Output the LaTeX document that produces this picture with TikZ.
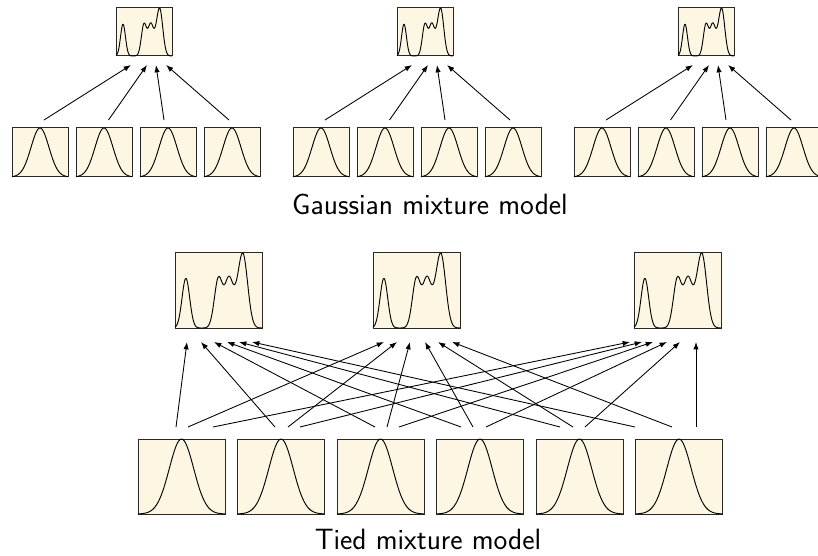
\documentclass[tikz,border=0pt]{standalone}
\usetikzlibrary{arrows.meta}

\definecolor{boxfill}{RGB}{253,246,226}
\definecolor{boxline}{RGB}{40,40,40}

\tikzset{
  curve/.style={draw=black,line width=0.7pt,line join=round},
  arr/.style={draw=black,line width=0.65pt,-{Latex[length=5.5pt,width=4pt]}},
  box/.style={draw=boxline,fill=boxfill,line width=0.75pt,inner sep=0pt,outer sep=0pt},
  smallcomp/.style={box,minimum width=42pt,minimum height=36.75pt},
  smallmix/.style={box,minimum width=42pt,minimum height=36pt},
  bigbox/.style={box,minimum width=65.25pt,minimum height=56.25pt},
  caption/.style={font=\sffamily\fontsize{22}{26}\selectfont,inner sep=0pt,anchor=base}
}

% single Gaussian bump inside a box node: #1 node, #2 width, #3 height, #4 = 2 sigma^2
\newcommand\DrawBell[4]{%
  \begin{scope}[shift={(#1.south west)},x=#2,y=#3]
    \draw[curve] plot[domain=0:1,samples=61] (\x,{exp(-((\x-0.5)^2)/#4)});
  \end{scope}}

% mixture density inside a box node: #1 node, #2 width, #3 height
\newcommand\DrawMix[3]{%
  \begin{scope}[shift={(#1.south west)},x=#2,y=#3]
    \draw[curve] plot[domain=0:1,samples=141] (\x,{0.66*exp(-((\x-0.125)^2)/0.003872)
      +0.66*exp(-((\x-0.5)^2)/0.004418)+0.635*exp(-((\x-0.62)^2)/0.004418)
      +0.12*exp(-((\x-0.7)^2)/0.0032)+0.98*exp(-((\x-0.78)^2)/0.00605)});
  \end{scope}}

\begin{document}
\begin{tikzpicture}[x=0.75pt,y=-0.75pt]
\path[use as bounding box,fill=white] (0,0) rectangle (818,556);
\clip (0,0) rectangle (818,556);

% ---------- Gaussian mixture model: three independent mixtures ----------
\foreach \g in {1,2,3}{
  \pgfmathsetmacro\off{281*(\g-1)}
  \node[smallmix] (gm\g) at (144+\off,32) {};
  \DrawMix{gm\g}{42pt}{36pt}
  \foreach \k in {1,2,3,4}{
    \node[smallcomp] (gc\g\k) at (40+64*\k-64+\off,152.5) {};
    \DrawBell{gc\g\k}{42pt}{36.75pt}{0.0512}
  }
  \foreach \k/\tx/\hx in {1/4/-13,2/4.5/3,3/-4/12,4/-3/22}{
    \draw[arr] ([shift={(\tx,-8)}]gc\g\k.north) -- ([shift={(\hx,9)}]gm\g.south);
  }
}
\node[caption] (capg) at (430,215) {Gaussian mixture model};

% ---------- Tied mixture model: shared components ----------
\node[bigbox] (tm1) at (218.5,290.5) {};
\node[bigbox] (tm2) at (416.5,290.5) {};
\node[bigbox] (tm3) at (677.5,290.5) {};
\foreach \j in {1,2,3}{\DrawMix{tm\j}{65.25pt}{56.25pt}}

\foreach \k in {1,...,6}{
  \node[bigbox] (tc\k) at (181.5+99.5*\k-99.5,476.5) {};
  \DrawBell{tc\k}{65.25pt}{56.25pt}{0.0392}
}

% component k -> mixture j, with tail and head offsets
\foreach \k/\j/\tx/\hx in {
  1/1/-5.5/-31.5, 1/2/6.5/-32.5, 1/3/31.5/-47.5,
  2/1/-6/-17.5,   2/2/7/-19.5,   2/3/19/-35.5,
  3/1/-5.5/-4.5,  3/2/6.5/-6.5,  3/3/18.5/-24.5,
  4/1/-19/8.5,    4/2/-7/8.5,    4/3/6/-10.5,
  5/1/-19.5/20.5, 5/2/-6.5/21.5, 5/3/5.5/2.5,
  6/1/-44/33.5,   6/2/-7/35.5,   6/3/17/18.5}{
  \draw[arr] ([shift={(\tx,-12)}]tc\k.north) -- ([shift={(\hx,14)}]tm\j.south);
}
\node[caption] (capt) at (428,549) {Tied mixture model};
\end{tikzpicture}
\end{document}
